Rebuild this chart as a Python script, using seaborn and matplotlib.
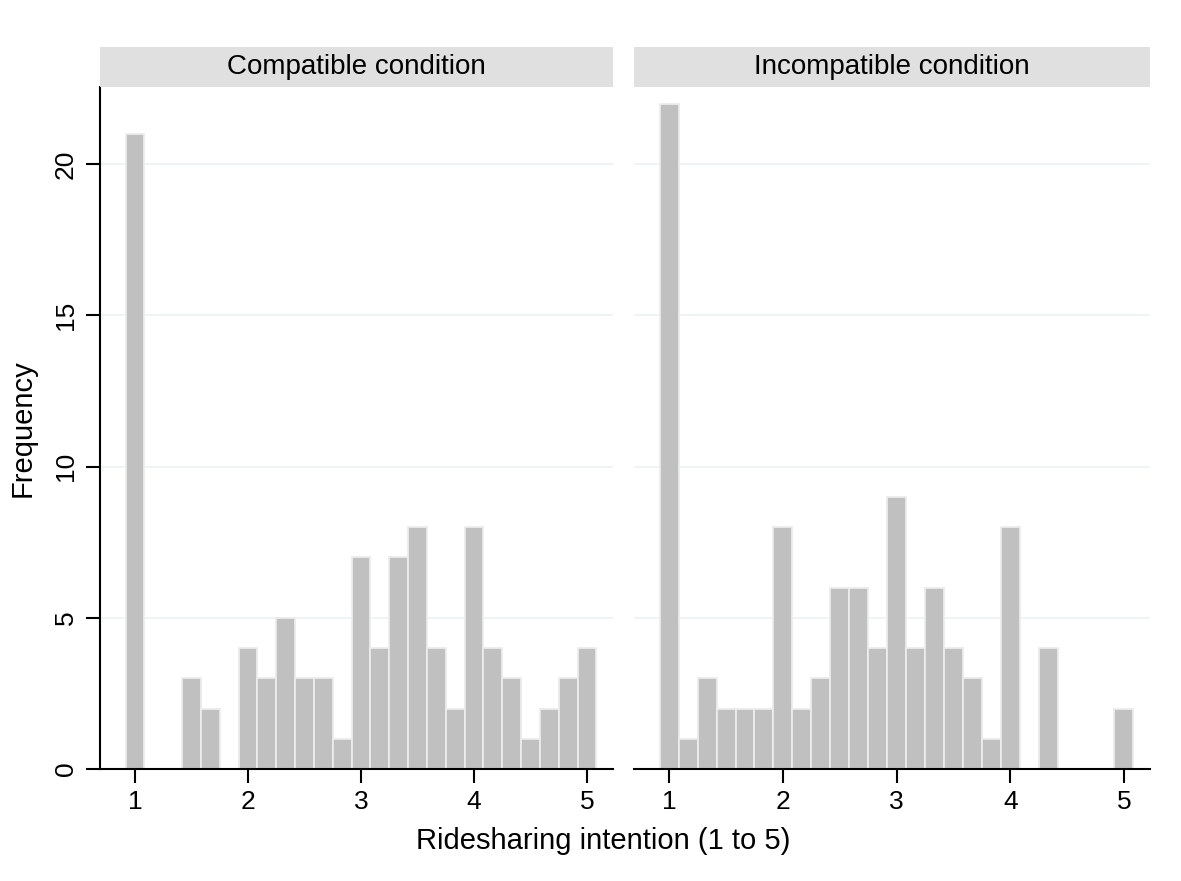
import matplotlib
matplotlib.use("Agg")
import matplotlib.pyplot as plt
import seaborn as sns
import pandas as pd
import numpy as np

# bin centres: means of six items, 1 to 5 in steps of 1/6
positions = [1 + i / 6 for i in range(25)]
compatible = [21, 0, 0, 3, 2, 0, 4, 3, 5, 3, 3, 1, 7, 4, 7, 8, 4, 2, 8, 4, 3, 1, 2, 3, 4]
incompatible = [22, 1, 3, 2, 2, 2, 8, 2, 3, 6, 6, 4, 9, 4, 6, 4, 3, 1, 8, 0, 4, 0, 0, 0, 2]
panels = ["Compatible condition", "Incompatible condition"]
x_ticks = [1, 2, 3, 4, 5]
y_ticks = [0, 5, 10, 15, 20]

df = pd.concat([
    pd.DataFrame({"value": positions, "count": compatible, "condition": panels[0]}),
    pd.DataFrame({"value": positions, "count": incompatible, "condition": panels[1]}),
])

sns.set_theme(style="white")
plt.rcParams.update({
    "font.family": ["Liberation Sans", "DejaVu Sans"],
    "axes.edgecolor": "#000000",
    "axes.linewidth": 1.5,
    "axes.labelcolor": "#000000",
    "text.color": "#000000",
    "xtick.color": "#000000",
    "ytick.color": "#000000",
})

edges = [p - 1 / 12 for p in positions] + [positions[-1] + 1 / 12]

fig = plt.figure(figsize=(11.81, 8.81), dpi=100)
ax_pos = [
    [100 / 1181, 112 / 881, 513 / 1181, 682 / 881],
    [634 / 1181, 112 / 881, 516 / 1181, 682 / 881],
]

for i, (name, pos) in enumerate(zip(panels, ax_pos)):
    ax = fig.add_axes(pos)
    sub = df[df["condition"] == name]
    for y in y_ticks[1:]:
        ax.axhline(y, color="#eaf2f3", lw=1.2, zorder=0)
    sns.histplot(data=sub, x="value", weights="count", bins=edges, ax=ax,
                 color="#c0c0c0", alpha=1, edgecolor="#ececec", linewidth=1.3, zorder=2)
    ax.set_xlim(0.69, 5.23)
    ax.set_ylim(0, 22.55)
    ax.set_xticks(x_ticks)
    ax.set_xticklabels([str(t) for t in x_ticks], fontsize=19)
    ax.set_xlabel("")
    ax.set_ylabel("")
    ax.tick_params(axis="x", direction="out", length=10, width=1.5, pad=5, bottom=True)
    for s in ["top", "right"]:
        ax.spines[s].set_visible(False)
    if i == 0:
        ax.set_yticks(y_ticks)
        ax.set_yticklabels([str(t) for t in y_ticks], fontsize=19, rotation=90, va="center")
        ax.tick_params(axis="y", direction="out", length=10, width=1.5, pad=6, left=True)
        ax.set_ylabel("Frequency", fontsize=21, labelpad=12)
    else:
        ax.spines["left"].set_visible(False)
        ax.set_yticks(y_ticks)
        ax.tick_params(axis="y", left=False, labelleft=False)
    # strip header
    x0, y0, w, h = pos
    fig.patches.append(plt.Rectangle((x0, 794 / 881), w, 40 / 881, transform=fig.transFigure,
                                     facecolor="#e0e0e0", edgecolor="none"))
    fig.text(x0 + w / 2, 814 / 881, name, ha="center", va="center", fontsize=20)

fig.text(603 / 1181, 40 / 881, "Ridesharing intention (1 to 5)", ha="center", va="center", fontsize=21)

fig.savefig("out.png", dpi=100, facecolor="white")
